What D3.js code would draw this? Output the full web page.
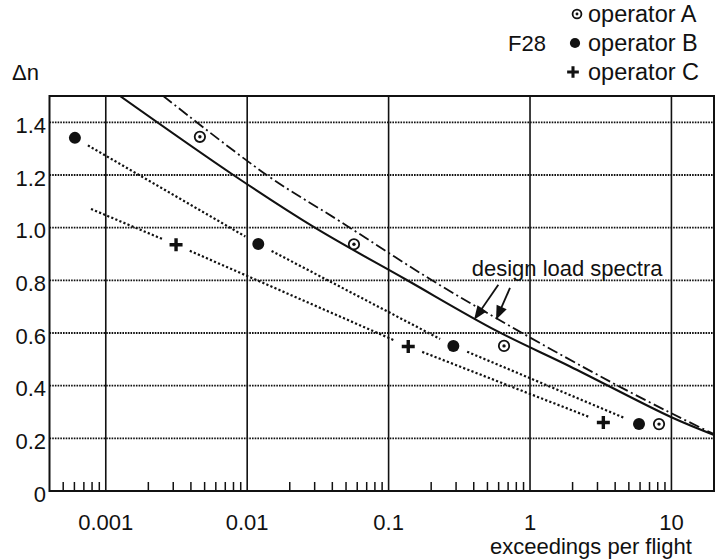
<!DOCTYPE html>
<html><head><meta charset="utf-8">
<script src="https://cdn.jsdelivr.net/npm/d3@7"></script>
<style>
html,body{margin:0;padding:0;background:#fff;}
svg{display:block;}
text{font-family:"Liberation Sans",Arial,sans-serif;fill:#111;}
</style></head>
<body><svg id="c" width="715" height="559"></svg>
<script>
// ---- data ----
const xTickValues = [0.001, 0.01, 0.1, 1, 10];
const xTickLabels = ["0.001", "0.01", "0.1", "1", "10"];
const yTickValues = [0, 0.2, 0.4, 0.6, 0.8, 1.0, 1.2, 1.4];
const yTickLabels = ["0", "0.2", "0.4", "0.6", "0.8", "1.0", "1.2", "1.4"];

const opA_x = [0.00463, 0.0569, 0.655, 8.17];
const opA_y = [1.345, 0.937, 0.551, 0.254];
const opB_x = [0.000605, 0.01198, 0.287, 5.9];
const opB_y = [1.341, 0.938, 0.551, 0.254];
const opC_x = [0.00314, 0.1377, 3.3];
const opC_y = [0.935, 0.549, 0.26];

// dotted fit lines (start of C line extends left of first point)
const fitB_x = [0.000605, 0.01198, 0.287, 5.9];
const fitB_y = [1.341, 0.938, 0.551, 0.254];
const fitC_x = [0.000786, 0.00314, 0.1377, 3.3];
const fitC_y = [1.071, 0.935, 0.549, 0.26];

// design load spectra
const designSolid_x = [0.00126, 0.00798, 0.0301, 0.1306, 0.581, 1.92, 10, 20];
const designSolid_y = [1.5, 1.2, 1.0, 0.805, 0.608, 0.473, 0.28, 0.213];
const designDash_x = [0.00255, 0.01374, 0.0453, 0.196, 0.827, 3.79, 10, 20];
const designDash_y = [1.5, 1.2, 1.024, 0.805, 0.608, 0.412, 0.295, 0.216];

// annotation arrows [from, to] in data coords
const arrow1 = [[0.597, 0.783], [0.402, 0.650]];
const arrow2 = [[0.722, 0.771], [0.575, 0.650]];
const annotText = "design load spectra";
const annotPos = [0.387, 0.818];

const legendItems = [
  {sym: "A", label: "operator A"},
  {sym: "B", label: "operator B"},
  {sym: "C", label: "operator C"}
];

// ---- drawing ----
const svg = d3.select("#c");
const x = d3.scaleLog().domain([0.0004, 20]).range([49.5, 714]);
const y = d3.scaleLinear().domain([0, 1.5]).range([491, 96]);
const FS = 22;

svg.append("defs").append("clipPath").attr("id", "clip")
  .append("rect").attr("x", 49.5).attr("y", 96).attr("width", 664.5).attr("height", 395);

// horizontal dotted gridlines
svg.append("g").selectAll("line").data(yTickValues.filter(v => v > 0)).join("line")
  .attr("x1", 49.5).attr("x2", 714).attr("y1", d => y(d)).attr("y2", d => y(d))
  .attr("stroke", "#111").attr("stroke-width", 1.8).attr("stroke-dasharray", "1.6,1.1");

// vertical decade gridlines
svg.append("g").selectAll("line").data(xTickValues).join("line")
  .attr("x1", d => x(d)).attr("x2", d => x(d)).attr("y1", 96).attr("y2", 491)
  .attr("stroke", "#111").attr("stroke-width", 1.6);

// minor ticks on bottom
const minor = [];
for (let e = -4; e <= 1; e++) for (let m = 2; m <= 9; m++) {
  const v = m * Math.pow(10, e);
  if (v > 0.0004 && v < 20) minor.push(v);
}
svg.append("g").selectAll("line").data(minor).join("line")
  .attr("x1", d => x(d)).attr("x2", d => x(d)).attr("y1", 491).attr("y2", 482)
  .attr("stroke", "#111").attr("stroke-width", 1.5);

// frame
svg.append("rect").attr("x", 49.5).attr("y", 96).attr("width", 664.5).attr("height", 395)
  .attr("fill", "none").attr("stroke", "#111").attr("stroke-width", 2);

// tick labels
svg.append("g").selectAll("text").data(yTickValues).join("text")
  .attr("x", 46).attr("y", d => y(d) + 3).attr("dy", "0.35em")
  .attr("text-anchor", "end").attr("font-size", FS)
  .text((d, i) => yTickLabels[i]);
svg.append("g").selectAll("text").data(xTickValues).join("text")
  .attr("x", d => x(d)).attr("y", 530)
  .attr("text-anchor", "middle").attr("font-size", FS)
  .text((d, i) => xTickLabels[i]);

svg.append("text").attr("x", 490).attr("y", 554).attr("font-size", FS).text("exceedings per flight");
svg.append("text").attr("x", 12).attr("y", 80).attr("font-size", FS).text("Δn");

// design spectra
const plot = svg.append("g").attr("clip-path", "url(#clip)");
const line = d3.line().x(d => x(d[0])).y(d => y(d[1])).curve(d3.curveCatmullRom.alpha(0.5));
plot.append("path").datum(designSolid_x.map((v, i) => [v, designSolid_y[i]]))
  .attr("d", line).attr("fill", "none").attr("stroke", "#111").attr("stroke-width", 2.1);
plot.append("path").datum(designDash_x.map((v, i) => [v, designDash_y[i]]))
  .attr("d", line).attr("fill", "none").attr("stroke", "#111").attr("stroke-width", 1.8)
  .attr("stroke-dasharray", "11,3.5,2,3.5");

// dotted fit lines with gaps at markers
function fitLine(xs, ys, markerFlags) {
  const g = plot.append("g");
  for (let i = 0; i < xs.length - 1; i++) {
    let x0 = x(xs[i]), y0 = y(ys[i]), x1 = x(xs[i + 1]), y1 = y(ys[i + 1]);
    const L = Math.hypot(x1 - x0, y1 - y0), ux = (x1 - x0) / L, uy = (y1 - y0) / L;
    const gap = 15;
    if (markerFlags[i]) { x0 += ux * gap; y0 += uy * gap; }
    if (markerFlags[i + 1]) { x1 -= ux * gap; y1 -= uy * gap; }
    g.append("line").attr("x1", x0).attr("y1", y0).attr("x2", x1).attr("y2", y1)
      .attr("stroke", "#111").attr("stroke-width", 2.2).attr("stroke-dasharray", "2.2,2.2");
  }
}
fitLine(fitB_x, fitB_y, [1, 1, 1, 1]);
fitLine(fitC_x, fitC_y, [0, 1, 1, 1]);

// markers
function drawSym(g, type, cx, cy, s) {
  s = s || 1;
  if (type === "A") {
    g.append("circle").attr("cx", cx).attr("cy", cy).attr("r", 5.2 * s)
      .attr("fill", "#fff").attr("stroke", "#111").attr("stroke-width", 1.8);
    g.append("circle").attr("cx", cx).attr("cy", cy).attr("r", 1.7 * s).attr("fill", "#111");
  } else if (type === "B") {
    g.append("circle").attr("cx", cx).attr("cy", cy).attr("r", 6 * s).attr("fill", "#111");
  } else {
    const a = 6.5 * s;
    g.append("path").attr("d", `M${cx - a},${cy}H${cx + a}M${cx},${cy - a}V${cy + a}`)
      .attr("stroke", "#111").attr("stroke-width", 3.4 * s);
  }
}
const mk = svg.append("g");
opA_x.forEach((v, i) => drawSym(mk, "A", x(v), y(opA_y[i])));
opB_x.forEach((v, i) => drawSym(mk, "B", x(v), y(opB_y[i])));
opC_x.forEach((v, i) => drawSym(mk, "C", x(v), y(opC_y[i])));

// annotation
svg.append("text").attr("x", x(annotPos[0])).attr("y", y(annotPos[1]))
  .attr("font-size", FS).text(annotText);
function arrow(a) {
  const x0 = x(a[0][0]), y0 = y(a[0][1]), x1 = x(a[1][0]), y1 = y(a[1][1]);
  const L = Math.hypot(x1 - x0, y1 - y0), ux = (x1 - x0) / L, uy = (y1 - y0) / L;
  const hl = 14, hw = 5.5;
  const bx = x1 - ux * hl, by = y1 - uy * hl;
  svg.append("line").attr("x1", x0).attr("y1", y0).attr("x2", bx + ux).attr("y2", by + uy)
    .attr("stroke", "#111").attr("stroke-width", 1.8);
  svg.append("path").attr("d",
    `M${x1},${y1}L${bx - uy * hw},${by + ux * hw}L${bx + uy * hw},${by - ux * hw}Z`)
    .attr("fill", "#111");
}
arrow(arrow1);
arrow(arrow2);

// legend
const lg = svg.append("g");
const legY = [14, 43, 72];
const legSymX = [577, 575, 573];
const legSymScale = [0.85, 0.85, 0.9];
legendItems.forEach((d, i) => {
  drawSym(lg, d.sym, legSymX[i], legY[i], legSymScale[i]);
  lg.append("text").attr("x", 588).attr("y", legY[i] + 8).attr("font-size", 23.5).text(d.label);
});
lg.append("text").attr("x", 508).attr("y", 51).attr("font-size", 22).text("F28");
</script></body></html>
